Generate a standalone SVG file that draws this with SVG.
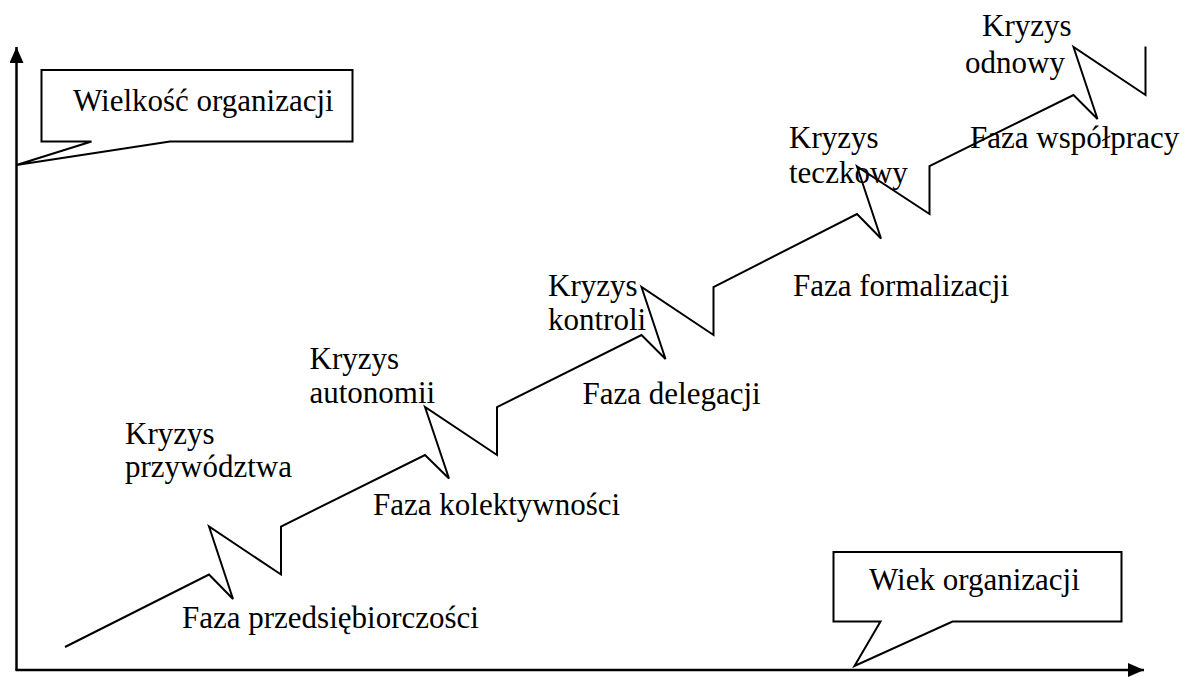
<svg xmlns="http://www.w3.org/2000/svg" width="1185" height="677" viewBox="0 0 1185 677">
  <style>
    .lbl { font-size: 31px; fill: #000; }
    .ln { fill: none; stroke: #000; stroke-width: 2; stroke-linejoin: miter; }
    .axis { fill: none; stroke: #000; stroke-width: 2.5; }
    .callout { fill: #fff; stroke: #000; stroke-width: 2; stroke-linejoin: miter; }
  </style>
  <defs>
    <marker id="arrow" viewBox="0 0 16 14" refX="16" refY="7" markerWidth="16" markerHeight="14" markerUnits="userSpaceOnUse" orient="auto">
      <path d="M0,0 L16,7 L0,14 Z" fill="#000"/>
    </marker>
  </defs>

  <!-- axes -->
  <g id="axes">
    <polyline class="axis" points="16.5,670.5 16.5,47" marker-end="url(#arrow)"/>
    <polyline class="axis" points="15.5,670 1144,670" marker-end="url(#arrow)"/>
  </g>

  <!-- growth curve with crisis zigzags -->
  <g id="connectors">
    <polyline class="ln" points="65,647 209,574.5 233,599 209,526.5 281,574.5 281,526.5 425,455 449,478.5 425,407 497,455 497,407 641.5,335 665.5,359 641.5,287 713.5,335 713.5,287 857,214 881,238.5 857,166.5 929.5,214 929.5,166 1073.5,95 1097.5,119 1073.5,47 1145.5,95 1145.5,46.5"/>
  </g>

  <g font-family="Liberation Serif, Tinos, DejaVu Serif, FreeSerif, Times New Roman, Times, serif">
    <!-- axis callouts -->
    <g id="callout-size">
      <path class="callout" d="M41.5,70 L352.5,70 L352.5,141.5 L170,141.5 L16.5,165 L91.5,141.5 L41.5,141.5 Z"/>
      <text class="lbl" x="73" y="110.5">Wielkość organizacji</text>
    </g>
    <g id="callout-age">
      <path class="callout" d="M833.5,552 L1121.5,552 L1121.5,621.5 L952.5,621.5 L854.5,666 L880.5,621.5 L833.5,621.5 Z"/>
      <text class="lbl" x="869" y="590">Wiek organizacji</text>
    </g>

    <!-- phases and crises -->
    <g id="phase-1"><text class="lbl" x="182" y="627.5">Faza przedsiębiorczości</text></g>
    <g id="crisis-1"><text class="lbl" x="125" y="443.5">Kryzys</text><text class="lbl" x="125" y="477">przywództwa</text></g>
    <g id="phase-2"><text class="lbl" x="373" y="515">Faza kolektywności</text></g>
    <g id="crisis-2"><text class="lbl" x="309.5" y="368.5">Kryzys</text><text class="lbl" x="309.5" y="403">autonomii</text></g>
    <g id="phase-3"><text class="lbl" x="582.5" y="404">Faza delegacji</text></g>
    <g id="crisis-3"><text class="lbl" x="548" y="296">Kryzys</text><text class="lbl" x="548" y="330">kontroli</text></g>
    <g id="phase-4"><text class="lbl" x="793" y="296">Faza formalizacji</text></g>
    <g id="crisis-4"><text class="lbl" x="789" y="148">Kryzys</text><text class="lbl" x="789" y="183">teczkowy</text></g>
    <g id="phase-5"><text class="lbl" x="970" y="148">Faza współpracy</text></g>
    <g id="crisis-5"><text class="lbl" x="982" y="36">Kryzys</text><text class="lbl" x="965" y="72.5">odnowy</text></g>
  </g>
</svg>
